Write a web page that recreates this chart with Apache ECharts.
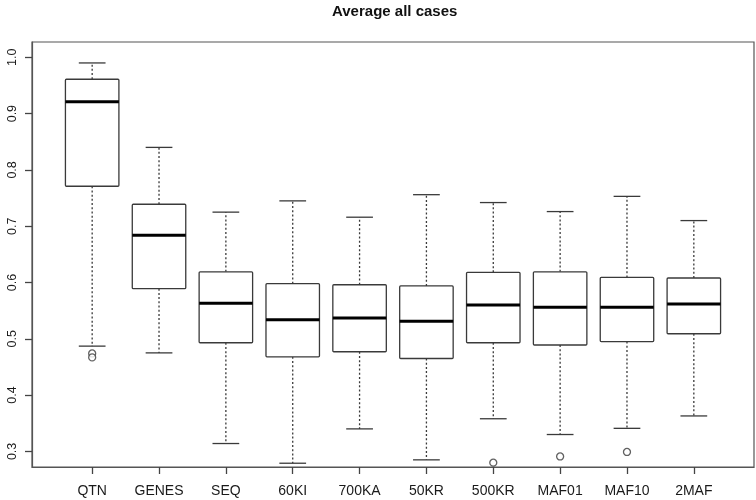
<!DOCTYPE html>
<html>
<head>
<meta charset="utf-8">
<script src="https://cdn.jsdelivr.net/npm/echarts@6/dist/echarts.min.js"></script>
<style>html,body{margin:0;padding:0;background:#fff}#c{width:756px;height:500px}</style>
</head>
<body>
<div id="c"></div>
<script>
const categories = ['QTN','GENES','SEQ','60KI','700KA','50KR','500KR','MAF01','MAF10','2MAF'];
const whiskerLow  = [0.487,0.475,0.314,0.279,0.340,0.285,0.358,0.330,0.341,0.363];
const q1          = [0.771,0.589,0.493,0.468,0.477,0.465,0.493,0.489,0.495,0.509];
const median      = [0.921,0.684,0.563,0.534,0.537,0.531,0.560,0.556,0.556,0.562];
const q3          = [0.961,0.739,0.619,0.598,0.596,0.594,0.618,0.619,0.609,0.608];
const whiskerHigh = [0.990,0.840,0.725,0.745,0.716,0.756,0.742,0.726,0.753,0.710];
const outlierIdx  = [0,0,6,7,8];
const outlierVal  = [0.474,0.467,0.280,0.291,0.299];
const yTicks = [0.3,0.4,0.5,0.6,0.7,0.8,0.9,1.0];

const boxData = categories.map((c,i)=>[i, whiskerLow[i], q1[i], median[i], q3[i], whiskerHigh[i]]);
const outData = outlierIdx.map((k,j)=>[k, outlierVal[j]]);
const xTicks = categories.map((c,i)=>i);

const LC = '#3a3a3a';
const chart = echarts.init(document.getElementById('c'), null, {renderer:'canvas'});
chart.setOption({
  backgroundColor:'#fff',
  animation:false,
  title:{text:'Average all cases', left:327, top:-1,
    textStyle:{fontFamily:'Liberation Sans, Arial, sans-serif', fontWeight:'bold', fontSize:15, color:'#111'}},
  grid:{left:32, right:2, top:42, bottom:33, show:true, borderColor:'#555', borderWidth:1.2, backgroundColor:'#fff'},
  xAxis:{type:'value', min:-0.9, max:9.9, position:'bottom',
    splitLine:{show:false}, axisLine:{show:true, onZero:false, lineStyle:{color:'#555', width:1.2}},
    axisTick:{show:true, customValues:xTicks, length:7, lineStyle:{color:'#444', width:1.3}},
    axisLabel:{customValues:xTicks, margin:17, fontSize:14, color:'#1a1a1a',
      fontFamily:'Liberation Sans, Arial, sans-serif',
      formatter:(v)=>categories[Math.round(v)] ?? ''}
  },
  yAxis:{type:'value', min:0.2723, max:1.0272, position:'left',
    splitLine:{show:false}, axisLine:{show:true, onZero:false, lineStyle:{color:'#555', width:1.2}},
    axisTick:{show:true, inside:false, customValues:yTicks, length:7, lineStyle:{color:'#444', width:1.3}},
    axisLabel:{customValues:yTicks, rotate:90, margin:13, fontSize:12.5, color:'#1a1a1a',
      fontFamily:'Liberation Sans, Arial, sans-serif',
      formatter:(v)=>v.toFixed(1)}
  },
  series:[
    {type:'custom', data:boxData, clip:false,
     encode:{x:0, y:[1,2,3,4,5]},
     renderItem:function(params, api){
       const x = api.value(0);
       const lo = api.coord([x, api.value(1)]);
       const b1 = api.coord([x, api.value(2)]);
       const md = api.coord([x, api.value(3)]);
       const b3 = api.coord([x, api.value(4)]);
       const hi = api.coord([x, api.value(5)]);
       const hw = api.size([0.8, 0])[0]/2;
       const cw = hw/2;
       const cx = lo[0];
       const dash = {stroke:LC, lineWidth:1.3, lineDash:[2,2.2]};
       const solid = {stroke:LC, lineWidth:1.3};
       return {type:'group', children:[
         {type:'line', shape:{x1:cx,y1:b3[1],x2:cx,y2:hi[1]}, style:dash},
         {type:'line', shape:{x1:cx,y1:b1[1],x2:cx,y2:lo[1]}, style:dash},
         {type:'line', shape:{x1:cx-cw,y1:hi[1],x2:cx+cw,y2:hi[1]}, style:solid},
         {type:'line', shape:{x1:cx-cw,y1:lo[1],x2:cx+cw,y2:lo[1]}, style:solid},
         {type:'rect', shape:{x:cx-hw, y:b3[1], width:2*hw, height:b1[1]-b3[1], r:1}, style:{fill:'#fff', stroke:LC, lineWidth:1.3}},
         {type:'line', shape:{x1:cx-hw,y1:md[1],x2:cx+hw,y2:md[1]}, style:{stroke:'#000', lineWidth:3}}
       ]};
     }
    },
    {type:'scatter', data:outData, symbol:'circle', symbolSize:7,
     itemStyle:{color:'#fff', borderColor:LC, borderWidth:1.3}}
  ]
});
</script>
</body>
</html>
